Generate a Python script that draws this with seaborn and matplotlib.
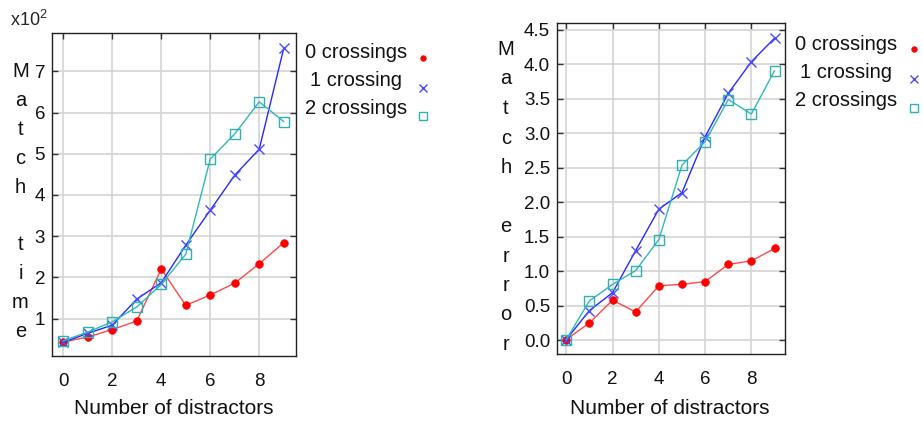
import numpy as np
import pandas as pd
import matplotlib
matplotlib.use("Agg")
import matplotlib.pyplot as plt
from matplotlib.lines import Line2D
import seaborn as sns

# ---- data ----
distractors = [0, 1, 2, 3, 4, 5, 6, 7, 8, 9]
series_labels = ["0 crossings", "1 crossing", "2 crossings"]

time_0 = [43, 55, 73, 94, 220, 132, 157, 186, 233, 284]
time_1 = [42, 64, 84, 147, 187, 278, 363, 448, 511, 756]
time_2 = [46, 67, 92, 128, 183, 256, 487, 548, 626, 578]

err_0 = [0.01, 0.25, 0.58, 0.41, 0.79, 0.81, 0.85, 1.10, 1.15, 1.33]
err_1 = [0.01, 0.43, 0.69, 1.30, 1.90, 2.14, 2.95, 3.58, 4.04, 4.38]
err_2 = [0.01, 0.57, 0.81, 1.01, 1.46, 2.54, 2.88, 3.49, 3.28, 3.91]

left_yticks = [1, 2, 3, 4, 5, 6, 7]
right_yticks = [0.0, 0.5, 1.0, 1.5, 2.0, 2.5, 3.0, 3.5, 4.0, 4.5]
xticks = [0, 2, 4, 6, 8]

# ---- style ----
sns.set_style("white")
plt.rcParams["font.family"] = ["Liberation Sans", "DejaVu Sans"]

W, H = 923, 424
fig = plt.figure(figsize=(W / 100, H / 100), dpi=100)

styles = [
    dict(color="#ff4848", marker="o", ms=5.5, mfc="#ff0000", mec="#ff0000", mew=0.5),
    dict(color="#2828ff", marker="x", ms=7, mfc="#4a4aff", mec="#4a4aff", mew=1.0),
    dict(color="#30b8b8", marker="s", ms=7, mfc="none", mec="#30b0b0", mew=1.0),
]

def px_axes(l, t, r, b):
    return fig.add_axes([l / W, 1 - b / H, (r - l) / W, (b - t) / H])

def draw(ax, ys, scale):
    for lab, vals, st in zip(series_labels, ys, styles):
        df = pd.DataFrame({"x": distractors, "y": np.array(vals, dtype=float) / scale})
        sns.lineplot(data=df, x="x", y="y", ax=ax, lw=1.0, legend=False,
                     **st)
    ax.set_xlabel("")
    ax.set_ylabel("")
    ax.set_xticks(xticks)
    ax.grid(True, color="#d4d4d4", lw=1.2)
    ax.set_axisbelow(True)
    ax.tick_params(axis="both", direction="in", length=4, width=1, color="#333333",
                   labelsize=13.5, labelcolor="#111111",
                   top=True, right=True, left=True, bottom=False)
    ax.tick_params(axis="x", pad=12)
    ax.tick_params(axis="y", pad=5)
    for s in ax.spines.values():
        s.set_color("#222222")
        s.set_linewidth(1.0)

# left axes
axL = px_axes(52, 33, 296, 356)
draw(axL, [time_0, time_1, time_2], 100.0)
axL.set_xlim(-0.46, 9.5)
axL.set_ylim(0.09, 7.93)
axL.set_yticks(left_yticks)
axL.set_yticklabels([str(v) for v in left_yticks])

# right axes
axR = px_axes(557, 23, 785, 354)
draw(axR, [err_0, err_1, err_2], 1.0)
axR.set_xlim(-0.40, 9.45)
axR.set_ylim(-0.20, 4.60)
axR.set_yticks(right_yticks)
axR.set_yticklabels([f"{v:.1f}" for v in right_yticks])

# x labels
fig.text(174 / W, 1 - 409 / H, "Number of distractors", ha="center", va="center", fontsize=15, color="#111111")
fig.text(670 / W, 1 - 408 / H, "Number of distractors", ha="center", va="center", fontsize=15, color="#111111")

# multiplier
fig.text(10 / W, 1 - 26 / H, r"x10$^{\mathregular{2}}$", ha="left", va="baseline", fontsize=13)

# stacked y labels
def stacked(word, x, y0, step):
    for i, ch in enumerate(word):
        if ch.strip():
            fig.text(x / W, 1 - (y0 + i * step) / H, ch, ha="center", va="baseline",
                     fontsize=14.5, color="#111111")

stacked("Match time", 20.5, 77, 28.9)
stacked("Match error", 506, 55, 29.5)

# legends
def legend(xc, rows, xm, mrows):
    for lab, st, yr, ym in zip(series_labels, styles, rows, mrows):
        fig.text(xc / W, 1 - yr / H, lab, ha="center", va="center", fontsize=14.5, color="#111111")
        fig.add_artist(Line2D([xm / W], [1 - ym / H], transform=fig.transFigure,
                              ls="none", marker=st["marker"], ms=st["ms"] - 1.5,
                              mfc=st["mfc"], mec=st["mec"], mew=st["mew"]))

legend(356, [52, 81, 109], 423, [57.5, 87.5, 116])
legend(846.5, [44.5, 72, 100], 914, [48.5, 79, 108])

fig.savefig("out.png", dpi=100)
